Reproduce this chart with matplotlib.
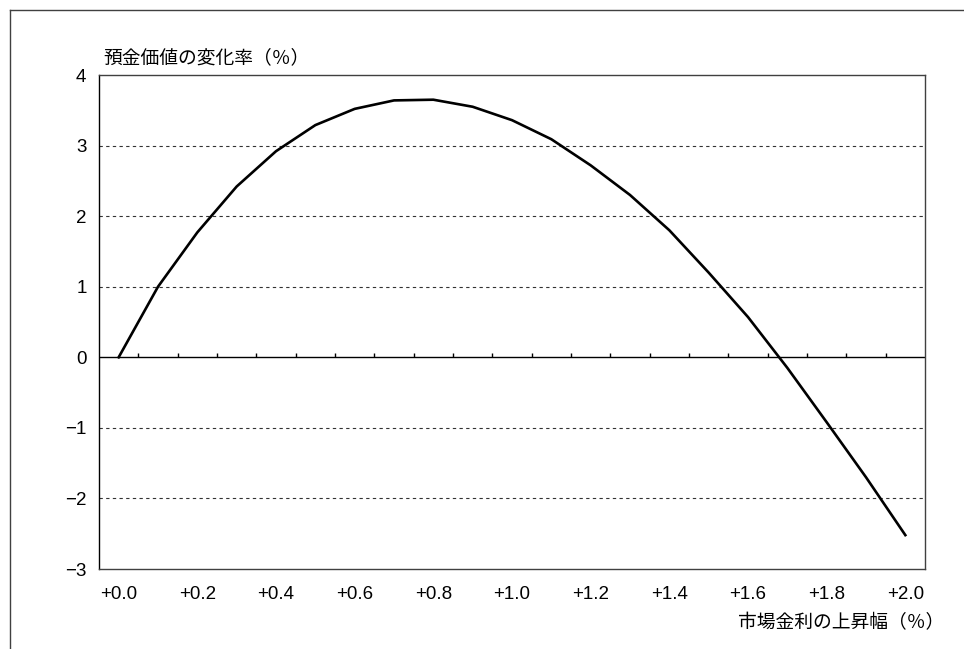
import matplotlib.pyplot as plt
from matplotlib.lines import Line2D
import numpy as np

plt.rcParams['font.family'] = ['Liberation Sans', 'Noto Sans CJK JP', 'DejaVu Sans']

# market rate rise (%) categories and change in deposit value (%)
rate_rise = [0.0, 0.1, 0.2, 0.3, 0.4, 0.5, 0.6, 0.7, 0.8, 0.9, 1.0,
             1.1, 1.2, 1.3, 1.4, 1.5, 1.6, 1.7, 1.8, 1.9, 2.0]
value_change = [0.0, 1.0, 1.77, 2.42, 2.92, 3.29, 3.52, 3.64, 3.65, 3.55, 3.36,
                3.09, 2.72, 2.30, 1.80, 1.20, 0.57, -0.15, -0.92, -1.70, -2.52]
y_ticks = [-3, -2, -1, 0, 1, 2, 3, 4]
grid_levels = [-2, -1, 1, 2, 3]

fig = plt.figure(figsize=(9.64, 6.49), dpi=100)
ax = fig.add_axes([99 / 964, 80 / 649, 826 / 964, 494 / 649])

pos = np.arange(len(rate_rise))
ax.plot(pos, value_change, color='black', lw=1.9, zorder=3)

# dashed gridlines and the zero axis line with category ticks
for g in grid_levels:
    ax.axhline(g, color='#333333', lw=0.8, ls=(0, (3, 3)), zorder=1)
ax.axhline(0, color='black', lw=1.0, zorder=2)
bounds = pos[:-1] + 0.5
ax.vlines(bounds, 0, 0.06, color='black', lw=1.0, zorder=2)

ax.set_xlim(-0.5, len(rate_rise) - 0.5)
ax.set_ylim(-3, 4)
ax.set_yticks(y_ticks)
ax.set_yticklabels([f'{t}'.replace('-', '\u2212') for t in y_ticks])
ax.set_xticks(pos[::2])
ax.set_xticklabels([f'+{v:.1f}' for v in rate_rise[::2]])
ax.tick_params(axis='both', length=0, labelsize=13.5, colors='black')
ax.tick_params(axis='y', pad=9)
ax.tick_params(axis='x', pad=12)

for s in ax.spines.values():
    s.set_color('#404040')
    s.set_linewidth(1.0)
ax.spines['left'].set_color('black')

fig.text(103 / 964, 1 - 58 / 649, '預金価値の変化率（％）', fontsize=13.5, va='center', ha='left',
         family=['Noto Sans CJK JP', 'DejaVu Sans'])
fig.text(944 / 964, 1 - 623 / 649, '市場金利の上昇幅（％）', fontsize=13.5, va='center', ha='right',
         family=['Noto Sans CJK JP', 'DejaVu Sans'])

# outer frame lines (top and left)
fig.add_artist(Line2D([10 / 964, 1.0], [1 - 10 / 649, 1 - 10 / 649], color='#404040', lw=1.0))
fig.add_artist(Line2D([10 / 964, 10 / 964], [1 - 10 / 649, 0.0], color='#404040', lw=1.0))

fig.savefig('out.png', dpi=100)
